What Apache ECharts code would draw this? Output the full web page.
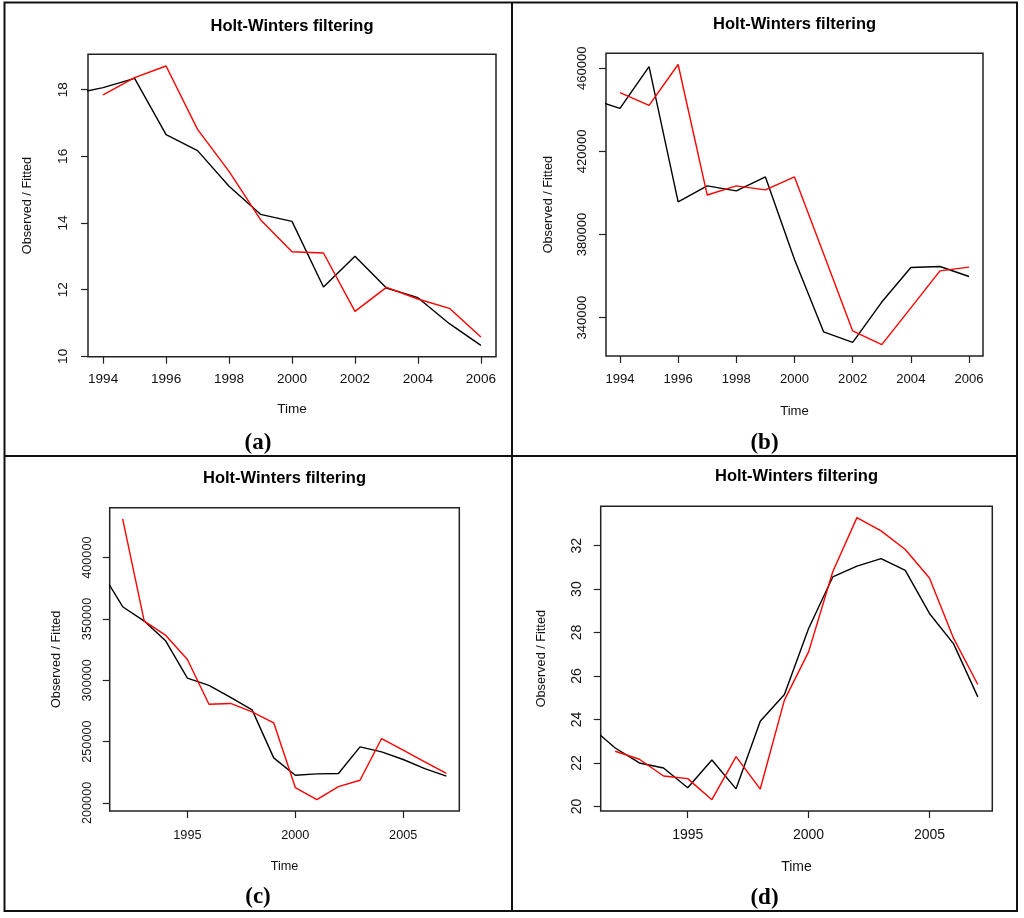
<!DOCTYPE html>
<html>
<head>
<meta charset="utf-8">
<script src="https://cdn.jsdelivr.net/npm/echarts@6/dist/echarts.min.js"></script>
<style>
html,body{margin:0;padding:0;background:#fff;}
#chart{width:1024px;height:918px;}
</style>
</head>
<body>
<div id="chart"></div>
<script>
// ---- data ----
const yearsAB = [1993,1994,1995,1996,1997,1998,1999,2000,2001,2002,2003,2004,2005,2006];
const aObserved = [17.86,18.06,18.34,16.65,16.17,15.10,14.26,14.05,12.08,13.00,12.05,11.76,10.98,10.33];
const aFitted   = [null,17.84,18.36,18.71,16.81,15.55,14.10,13.14,13.10,11.35,12.07,11.72,11.44,10.58];
const bObserved = [445200,440700,460800,395700,403400,401000,407700,368000,333200,328100,347500,364100,364600,359800];
const bFitted   = [null,448300,442100,461800,399000,403400,401500,407700,370700,333600,327000,344700,362500,364300];

const yearsCD = [1991,1992,1993,1994,1995,1996,1997,1998,1999,2000,2001,2002,2003,2004,2005,2006,2007];
const cObserved = [389000,360000,348300,332000,301800,295800,286000,275900,236700,222600,223700,224000,245700,241600,235400,228000,221800];
const cFitted   = [null,431600,348300,336600,317000,280500,281100,274300,265300,212500,202700,213300,218500,252500,243000,233500,224000];
const dObserved = [23.65,22.69,22.00,21.77,20.86,22.14,20.81,23.92,25.15,28.19,30.56,31.06,31.40,30.86,28.88,27.48,25.04];
const dFitted   = [null,22.54,22.17,21.40,21.28,20.31,22.29,20.80,24.89,27.11,30.80,33.29,32.68,31.82,30.51,27.73,25.61];

const xTicksAB = [1994,1996,1998,2000,2002,2004,2006];
const xTicksCD = [1995,2000,2005];
const yTicksA = [10,12,14,16,18];
const yTicksB = [340000,380000,420000,460000];
const yTicksC = [200000,250000,300000,350000,400000];
const yTicksD = [20,22,24,26,28,30,32];

const titleText = 'Holt-Winters filtering';
const xName = 'Time';
const yName = 'Observed / Fitted';
const panelLabels = ['(a)','(b)','(c)','(d)'];

// ---- layout ----
const FONT = '"Liberation Sans", Arial, Helvetica, sans-serif';
const panels = [
  {years: yearsAB, obs: aObserved, fit: aFitted, xTicks: xTicksAB, yTicks: yTicksA,
   grid: {left: 88, top: 54.3, width: 408, height: 302.4},
   xr: [1993.52, 2006.48], yr: [9.99, 19.06],
   fs: 13.6, xm: 16, ym: 18, xg: 46, yg: 53.6,
   title: [292, 18], lab: [258, 431.5]},
  {years: yearsAB, obs: bObserved, fit: bFitted, xTicks: xTicksAB, yTicks: yTicksB,
   grid: {left: 606, top: 53.3, width: 377, height: 302.7},
   xr: [1993.52, 2006.48], yr: [321550, 467200],
   fs: 13.1, xm: 17, ym: 16.8, xg: 49, yg: 51,
   title: [794.6, 16], lab: [764.5, 432]},
  {years: yearsCD, obs: cObserved, fit: cFitted, xTicks: xTicksCD, yTicks: yTicksC,
   grid: {left: 109.7, top: 507.7, width: 349.6, height: 303.3},
   xr: [1991.4, 2007.6], yr: [193400, 440750],
   fs: 12.7, xm: 17.6, ym: 15.6, xg: 49, yg: 46.6,
   title: [284.5, 469.7], lab: [258, 885.5]},
  {years: yearsCD, obs: dObserved, fit: dFitted, xTicks: xTicksCD, yTicks: yTicksD,
   grid: {left: 600.7, top: 506.3, width: 391.6, height: 304.7},
   xr: [1991.4, 2007.6], yr: [19.79, 33.81],
   fs: 14, xm: 17, ym: 16.7, xg: 49, yg: 53,
   title: [796.5, 467.7], lab: [764.5, 886.5]}
];

function pairs(xs, ys) {
  const out = [];
  for (let i = 0; i < xs.length; i++) if (ys[i] !== null) out.push([xs[i], ys[i]]);
  return out;
}

const grid = [], xAxis = [], yAxis = [], series = [], title = [];
panels.forEach((p, i) => {
  grid.push(Object.assign({show: true, borderColor: '#222', borderWidth: 1.5, backgroundColor: 'transparent'}, p.grid));
  xAxis.push({
    type: 'value', gridIndex: i, min: p.xr[0], max: p.xr[1],
    splitLine: {show: false}, axisLine: {show: false},
    axisTick: {show: true, length: 7, inside: false, customValues: p.xTicks, lineStyle: {color: '#222', width: 1.2}},
    axisLabel: {show: true, customValues: p.xTicks, margin: p.xm, hideOverlap: false,
      formatter: v => String(v), fontSize: p.fs, fontFamily: FONT, color: '#111'},
    name: xName, nameLocation: 'middle', nameGap: p.xg,
    nameTextStyle: {fontSize: p.fs, fontFamily: FONT, color: '#111'}
  });
  yAxis.push({
    type: 'value', gridIndex: i, min: p.yr[0], max: p.yr[1],
    splitLine: {show: false}, axisLine: {show: false},
    axisTick: {show: true, length: 7, inside: false, customValues: p.yTicks, lineStyle: {color: '#222', width: 1.2}},
    axisLabel: {show: true, customValues: p.yTicks, rotate: 90, margin: p.ym, hideOverlap: false,
      formatter: v => String(v), fontSize: p.fs, fontFamily: FONT, color: '#111'},
    name: yName, nameLocation: 'middle', nameRotate: 90, nameGap: p.yg,
    nameTextStyle: {fontSize: 12.7, fontFamily: FONT, color: '#111'}
  });
  series.push({
    type: 'line', xAxisIndex: i, yAxisIndex: i, data: pairs(p.years, p.obs),
    showSymbol: false, symbol: 'none', clip: true, animation: false,
    lineStyle: {color: '#000', width: 1.4}
  });
  series.push({
    type: 'line', xAxisIndex: i, yAxisIndex: i, data: pairs(p.years, p.fit),
    showSymbol: false, symbol: 'none', clip: true, animation: false,
    lineStyle: {color: '#ff0000', width: 1.4}
  });
  title.push({
    text: titleText, left: p.title[0], top: p.title[1], textAlign: 'center', padding: 0,
    textStyle: {fontSize: 16.5, fontWeight: 'bold', fontFamily: FONT, color: '#000'}
  });
  title.push({
    text: panelLabels[i], left: p.lab[0], top: p.lab[1], textAlign: 'center', padding: 0,
    textStyle: {fontSize: 23, fontWeight: 'bold', fontFamily: '"Liberation Serif", "Times New Roman", serif', color: '#000'}
  });
});

const chart = echarts.init(document.getElementById('chart'), null, {renderer: 'canvas'});
chart.setOption({
  backgroundColor: '#fff',
  animation: false,
  title: title,
  tooltip: {show: false},
  grid: grid,
  xAxis: xAxis,
  yAxis: yAxis,
  series: series,
  graphic: [
    {type: 'rect', silent: true, z: 100, shape: {x: 4.5, y: 2.5, width: 1012.5, height: 908.5},
     style: {fill: 'none', stroke: '#111', lineWidth: 2}},
    {type: 'line', silent: true, z: 100, shape: {x1: 512, y1: 2.5, x2: 512, y2: 911},
     style: {stroke: '#111', lineWidth: 2}},
    {type: 'line', silent: true, z: 100, shape: {x1: 4.5, y1: 456, x2: 1017, y2: 456},
     style: {stroke: '#111', lineWidth: 2}}
  ]
});
</script>
</body>
</html>
